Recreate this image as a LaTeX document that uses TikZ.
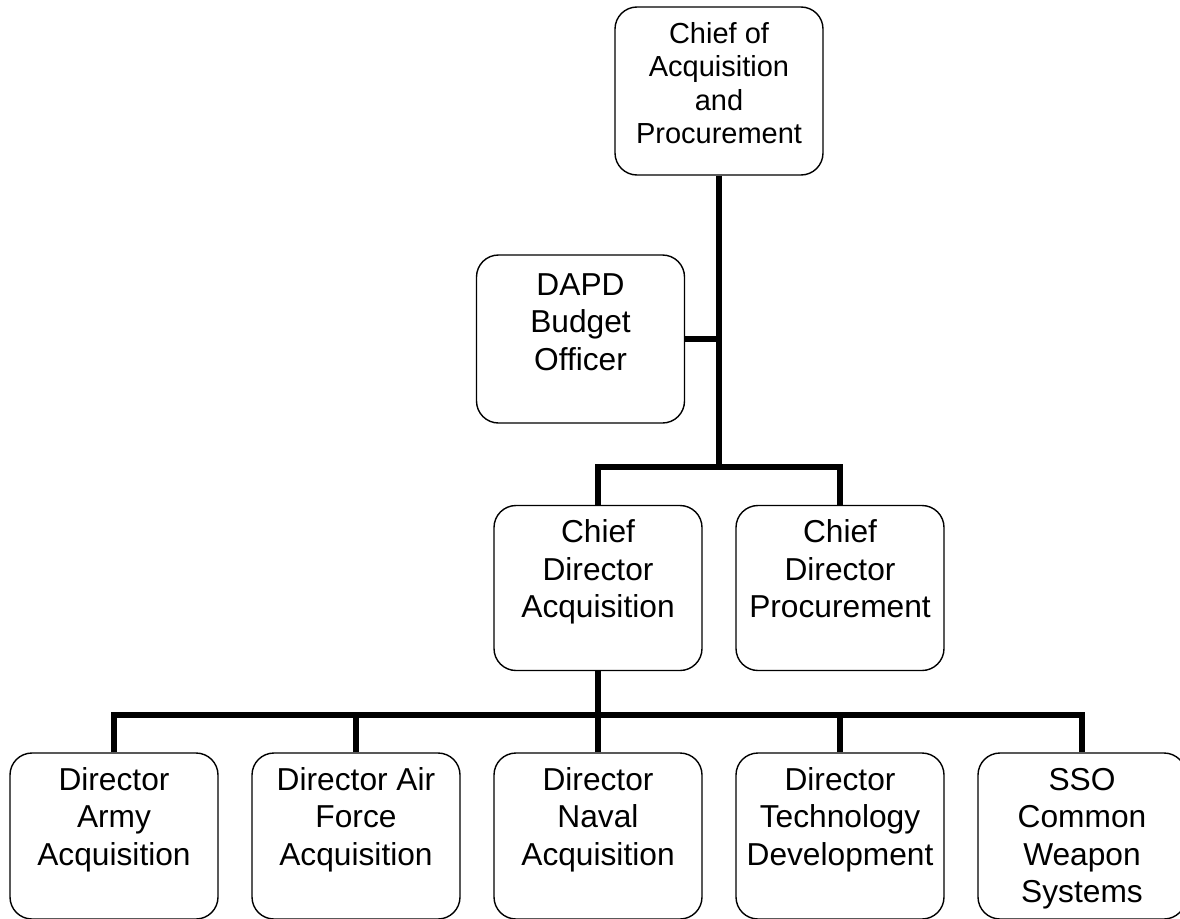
\documentclass[tikz,border=0pt]{standalone}
\usepackage{fontspec}
\setmainfont{Liberation Sans}
\newcommand{\orgtxt}[5]{\parbox[c][#1][t]{208pt}{\centering\fontsize{#2}{#3}\selectfont\rule{0pt}{#4}#5}}
\begin{document}
\begin{tikzpicture}[x=1pt,y=-1pt,
  orgbox/.style={draw=black, line width=1.4pt, rounded corners=22pt, inner sep=0pt, fill=white},
  conn/.style={draw=black, line width=6pt}]
\useasboundingbox[fill=white] (0,0) rectangle (1180,918);
\node[orgbox] (top) at (719,91) {\orgtxt{168pt}{29}{33.5}{36pt}{Chief of\\Acquisition\\and\\Procurement}};
\node[orgbox] (dapd) at (580.5,339) {\orgtxt{168pt}{31.7}{37.5}{40pt}{DAPD\\Budget\\Officer}};
\node[orgbox] (cda) at (598,588) {\orgtxt{165pt}{31.7}{37.5}{37pt}{Chief\\Director\\Acquisition}};
\node[orgbox] (cdp) at (840,588) {\orgtxt{165pt}{31.7}{37.5}{37pt}{Chief\\Director\\Procurement}};
\node[orgbox] (b1) at (114,836) {\orgtxt{166pt}{31.7}{37.5}{37pt}{Director\\Army\\Acquisition}};
\node[orgbox] (b2) at (356,836) {\orgtxt{166pt}{31.7}{37.5}{37pt}{Director Air\\Force\\Acquisition}};
\node[orgbox] (b3) at (598,836) {\orgtxt{166pt}{31.7}{37.5}{37pt}{Director\\Naval\\Acquisition}};
\node[orgbox] (b4) at (840,836) {\orgtxt{166pt}{31.7}{37.5}{37pt}{Director\\Technology\\Development}};
\node[orgbox] (b5) at (1082,836) {\orgtxt{166pt}{31.7}{37.5}{37pt}{SSO\\Common\\Weapon\\Systems}};
\coordinate (j1) at (719,467);
\coordinate (j2) at (598,715);
\draw[conn] (top.south) -- (j1);
\draw[conn] (dapd.east) -- (dapd.east -| j1);
\draw[conn] (cda.north) |- (j1) -| (cdp.north);
\draw[conn] (cda.south) -- (j2);
\draw[conn] (b1.north) |- (j2) -| (b5.north);
\draw[conn] (b2.north) -- (b2.north |- j2);
\draw[conn] (b3.north) -- (j2);
\draw[conn] (b4.north) -- (b4.north |- j2);
\end{tikzpicture}
\end{document}
